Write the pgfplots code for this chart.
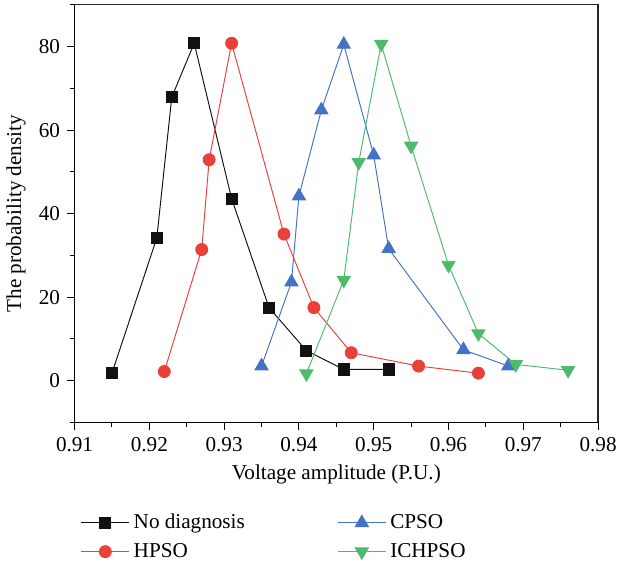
\documentclass[border=0pt]{standalone}
\usepackage{fontspec}
\setmainfont{Liberation Serif}
\usepackage{pgfplots}
\pgfplotsset{compat=1.18}
\definecolor{cblack}{HTML}{111111}
\definecolor{cred}{HTML}{E8413A}
\definecolor{cblue}{HTML}{4472C4}
\definecolor{cgreen}{HTML}{4CBB6C}
\begin{document}
\begin{tikzpicture}[font=\fontsize{11}{13}\selectfont]
\begin{axis}[
  scale only axis,
  width=272pt, height=217pt,
  xmin=0.91, xmax=0.98, ymin=-10, ymax=90,
  xtick={0.91,0.92,...,0.98},
  minor xtick={0.915,0.925,...,0.975},
  ytick={0,20,40,60,80},
  minor ytick={-10,10,30,50,70,90},
  xtick pos=bottom, ytick pos=left,
  tick align=outside,
  major tick length=4pt,
  minor tick length=2.5pt,
  every tick/.style={black, line width=0.5pt},
  /pgf/number format/assume math mode=true,
  xticklabel style={/pgf/number format/fixed, /pgf/number format/precision=2, /pgf/number format/fixed zerofill},
  xlabel={Voltage amplitude (P.U.)},
  ylabel={The probability density},
  legend columns=2,
  transpose legend,
  legend style={draw=none, fill=none, at={(0,-0.2)}, anchor=north west,
    /tikz/every even column/.append style={column sep=46pt},
    row sep=2pt, font=\fontsize{11}{13}\selectfont},
  legend cell align=left,
  legend image code/.code={\draw[mark repeat=2,mark phase=2] plot coordinates {(0cm,0cm) (0.44cm,0cm) (0.88cm,0cm)};},
  every axis plot/.append style={line width=0.5pt},
  clip=false,
]
\addplot[cblack, mark=square*, mark size=2.9pt, mark options={fill=cblack}] coordinates {
(0.915,1.8) (0.921,34.2) (0.923,67.9) (0.926,80.8) (0.931,43.6) (0.936,17.5) (0.941,7.2) (0.946,2.7) (0.952,2.7)};
\addlegendentry{No diagnosis}
\addplot[cred, mark=*, mark size=3.1pt, mark options={fill=cred}] coordinates {
(0.922,2.2) (0.927,31.4) (0.928,52.9) (0.931,80.8) (0.938,35.1) (0.942,17.5) (0.947,6.7) (0.956,3.5) (0.964,1.8)};
\addlegendentry{HPSO}
\addplot[cblue, mark=triangle*, mark size=3.9pt, mark options={fill=cblue}] coordinates {
(0.935,3.5) (0.939,23.6) (0.940,44.2) (0.943,64.8) (0.946,80.5) (0.950,54.0) (0.952,31.6) (0.962,7.4) (0.968,3.5)};
\addlegendentry{CPSO}
\addplot[cgreen, mark=triangle*, mark size=3.9pt, mark options={fill=cgreen, rotate=180}] coordinates {
(0.941,1.7) (0.946,24.1) (0.948,52.3) (0.951,80.6) (0.955,56.2) (0.960,27.7) (0.964,11.3) (0.969,3.9) (0.976,2.5)};
\addlegendentry{ICHPSO}
\end{axis}
\draw[line width=0.6pt, black!85] (current axis.north west) -- (current axis.north east) -- (current axis.south east);
\path (current axis.north) -- ++(0,2.5pt);
\end{tikzpicture}
\end{document}
